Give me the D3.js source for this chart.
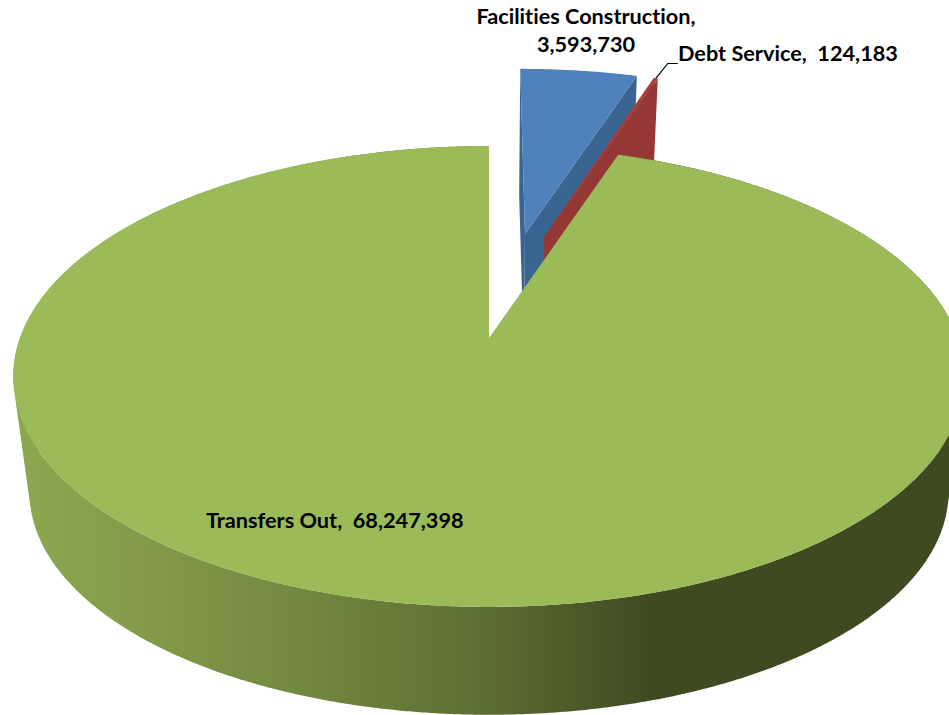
<!DOCTYPE html>
<html>
<head>
<meta charset="utf-8">
<script src="https://cdn.jsdelivr.net/npm/d3@7"></script>
<style>
  body { margin: 0; background: #fff; }
  svg { display: block; }
  text { font-family: Lato, "Open Sans", sans-serif; font-weight: 700; fill: #000; font-variant-ligatures: none; white-space: pre; }
</style>
</head>
<body>
<div id="chart"></div>
<script>
// chart data
const categories = ["Facilities Construction", "Debt Service", "Transfers Out"]
const amounts = [3593730, 124183, 68247398]

const width = 949
const height = 715

// look of the tilted disc
const apexX = 489, apexY = 338
const radiusX = 469, radiusY = 224
const tilt = 0.167
const lowerScale = 0.966   // bottom rim is further away so it's a bit smaller
const lowerDrop = 117

// how far each slice is pulled out (distance, direction in radians)
const explode = [
    { dist: 0.51, dir: 9.4 * Math.PI / 180 },
    { dist: 0.505, dir: 14.6 * Math.PI / 180 },
    { dist: 0, dir: 0 }
]
const topColors = ["#4f81bd", "#a8403d", "#9bbb59"]
const faceColors = ["#3b6591", "#953735", "#5f7530"]

const svg = d3.select("#chart").append("svg")
    .attr("width", width)
    .attr("height", height)

// gradient on the wall of the green slice
const grad = svg.append("defs").append("linearGradient")
    .attr("id", "wall")
    .attr("gradientUnits", "userSpaceOnUse")
    .attr("x1", 14).attr("x2", 949).attr("y1", 0).attr("y2", 0)
grad.selectAll("stop")
    .data([[0, "#8ba84f"], [0.15, "#82994a"], [0.3, "#73893f"], [0.5, "#5d6e33"], [0.68, "#3f4a21"], [1, "#3f4a21"]])
    .join("stop")
    .attr("offset", d => d[0])
    .attr("stop-color", d => d[1])

const xScale = d3.scaleLinear().domain([-1, 1]).range([apexX - radiusX, apexX + radiusX])
const yScale = d3.scaleLinear().domain([-1, 1]).range([apexY + radiusY, apexY - radiusY])

// ground plane point -> screen, level 0 is the top face and level 1 the bottom
function project(x, y, level) {
    const w = 1 + tilt * y
    const s = level ? lowerScale : 1
    return [xScale(s * x / w), yScale(s * y / w) + (level ? lowerDrop : 0)]
}

const pie = d3.pie().sort(null).startAngle(0).endAngle(2 * Math.PI)
const arcs = pie(amounts)
const line = d3.line()

arcs.forEach((a, i) => {
    const e = explode[i]
    a.ox = e.dist * Math.sin(e.dir)
    a.oy = e.dist * Math.cos(e.dir)
    a.rim = t => [a.ox + Math.sin(t), a.oy + Math.cos(t)]
    a.steps = d3.range(a.startAngle, a.endAngle, 0.005).concat([a.endAngle])
})

function face(a, t) {
    const r = a.rim(t)
    return line([project(a.ox, a.oy, 0), project(r[0], r[1], 0), project(r[0], r[1], 1), project(a.ox, a.oy, 1)]) + "Z"
}

function topFace(a) {
    return line([project(a.ox, a.oy, 0)].concat(a.steps.map(t => project(a.rim(t)[0], a.rim(t)[1], 0)))) + "Z"
}

// exploded slices first, the big one sits in front of them
arcs.slice(0, 2).forEach((a, i) => {
    svg.append("path").attr("d", face(a, a.startAngle)).attr("fill", faceColors[i])
    svg.append("path").attr("d", face(a, a.endAngle)).attr("fill", faceColors[i])
    svg.append("path").attr("d", topFace(a)).attr("fill", topColors[i])
})

// wall of the green slice, many quads in one path so there are no seams
const g = arcs[2]
let wall = ""
g.steps.slice(1).forEach((t, i) => {
    const p = g.rim(g.steps[i])
    const q = g.rim(t)
    const quad = [project(p[0], p[1], 0), project(q[0], q[1], 0), project(q[0], q[1], 1), project(p[0], p[1], 1)]
    // keep all quads turning the same way or overlaps cancel out
    if (d3.polygonArea(quad) < 0) quad.reverse()
    wall += line(quad) + "Z"
})
svg.append("path").attr("d", wall).attr("fill", "url(#wall)")
svg.append("path").attr("d", topFace(g)).attr("fill", topColors[2])

// leader line for the debt service label
const red = arcs[1]
const tip = project(red.rim(red.endAngle)[0], red.rim(red.endAngle)[1], 0)
svg.append("path")
    .attr("d", line([[tip[0] - 2, tip[1]], [tip[0] + 10, tip[1] - 15], [tip[0] + 20, tip[1] - 15]]))
    .attr("fill", "none")
    .attr("stroke", "#000")
    .attr("stroke-width", 1.2)

// labels
const fmt = d3.format(",")
const fontSize = 21.7
svg.append("text").attr("x", 586).attr("y", 24).attr("text-anchor", "middle")
    .attr("font-size", fontSize).text(categories[0] + ",")
svg.append("text").attr("x", 586).attr("y", 52).attr("text-anchor", "middle")
    .attr("font-size", fontSize).text(fmt(amounts[0]))
svg.append("text").attr("x", 678).attr("y", 61)
    .attr("font-size", fontSize)
    .text(categories[1] + ",  " + fmt(amounts[1]))
svg.append("text").attr("x", 206).attr("y", 528)
    .attr("font-size", fontSize)
    .text(categories[2] + ",  " + fmt(amounts[2]))
</script>
</body>
</html>
